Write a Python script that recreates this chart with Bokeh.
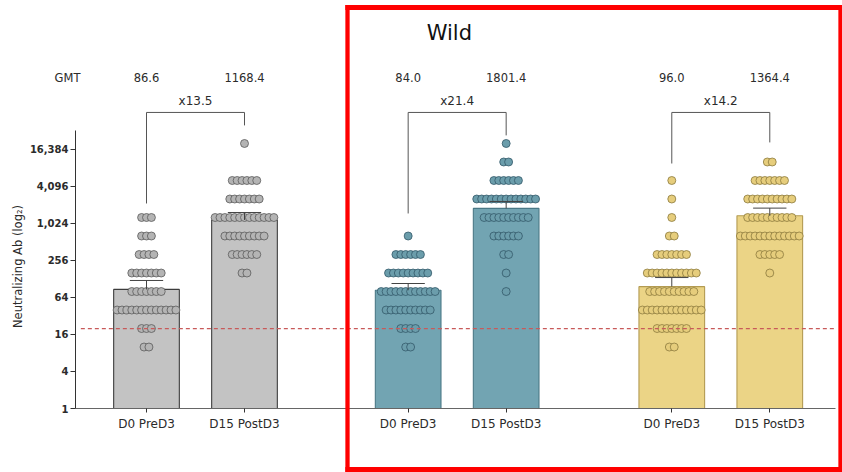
from bokeh.plotting import figure
from bokeh.models import (ColumnDataSource, FixedTicker, NumeralTickFormatter, Range1d, Label)
from bokeh.core.properties import value
from bokeh.embed import file_html
from bokeh.resources import INLINE

# ---- data -------------------------------------------------------------
# Titer levels at which individual responses were recorded
titer_levels = [10, 20, 40, 80, 160, 320, 640, 1280, 2560, 5120, 10240, 20480]

# Subjects at each titer level (aligned with titer_levels), one list per bar
counts_ref_pre = [2, 3, 13, 7, 7, 4, 3, 3, 0, 0, 0, 0]
counts_ref_post = [0, 0, 0, 0, 2, 6, 9, 13, 7, 6, 0, 1]
counts_wild_a_pre = [2, 4, 10, 12, 9, 6, 1, 0, 0, 0, 0, 0]
counts_wild_a_post = [0, 0, 0, 1, 1, 2, 6, 10, 13, 6, 2, 1]
counts_wild_b_pre = [2, 7, 13, 10, 11, 7, 2, 1, 1, 1, 0, 0]
counts_wild_b_post = [0, 0, 0, 0, 1, 5, 13, 10, 10, 7, 2, 0]

timepoints = ["D0 PreD3", "D15 PostD3", "D0 PreD3", "D15 PostD3", "D0 PreD3", "D15 PostD3"]
gmt = [86.6, 1168.4, 84.0, 1801.4, 96.0, 1364.4]
gmt_upper = [121, 1545, 108, 2335, 135, 1820]
fold_rise = ["x13.5", "x21.4", "x14.2"]
lloq = 20

# ---- layout -----------------------------------------------------------
bar_x = [1.0, 2.0, 3.67, 4.67, 6.36, 7.36]
bar_w = 0.67
dot_step = 0.05
cap_half = 0.17
bracket_top = 2 ** 16
bracket_leg_end = [2 ** 11.08, 2 ** 15.3, 2 ** 10.54, 2 ** 14.76, 2 ** 13.24, 2 ** 14.38]
gmt_row_y = 2 ** 17.9
fold_row_y = 2 ** 16.6
x_lo, x_hi = 0.2755, 8.051

bar_fill = ["#c3c3c3", "#c3c3c3", "#72a4b2", "#72a4b2", "#ebd486", "#ebd486"]
bar_edge = ["#3c3c3c", "#3c3c3c", "#4a7886", "#4a7886", "#b39b52", "#b39b52"]
dot_fill = ["#b4b4b4", "#b4b4b4", "#6b9dab", "#6b9dab", "#e6cd7c", "#e6cd7c"]
dot_edge = ["#5a5a5a", "#5a5a5a", "#33596a", "#33596a", "#8c7a3e", "#8c7a3e"]

all_counts = [counts_ref_pre, counts_ref_post, counts_wild_a_pre,
              counts_wild_a_post, counts_wild_b_pre, counts_wild_b_post]

FONT = "DejaVu Sans"
TXT = "#2b2b2b"
RED = "#ff0000"

p = figure(width=842, height=472, output_backend="svg", toolbar_location=None,
           y_axis_type="log",
           x_range=Range1d(x_lo, x_hi), y_range=Range1d(1, 2 ** 22.05),
           min_border_left=75, min_border_right=5, min_border_top=0, min_border_bottom=64)
p.outline_line_color = None
p.grid.grid_line_color = None
p.background_fill_color = "white"

# bars at the geometric mean titer
bars = ColumnDataSource(dict(x=bar_x, top=gmt, fill=bar_fill, edge=bar_edge))
p.vbar(x="x", top="top", bottom=1, width=bar_w, source=bars,
       fill_color="fill", line_color="edge", line_width=1.1)

# individual subjects, spread sideways within each titer row
dx, dy, df, de = [], [], [], []
for xc, counts, f, e in zip(bar_x, all_counts, dot_fill, dot_edge):
    for level, n in zip(titer_levels, counts):
        for i in range(n):
            dx.append(xc + (i - (n - 1) / 2) * dot_step)
            dy.append(level)
            df.append(f)
            de.append(e)
p.scatter(x=dx, y=dy, size=8, fill_color=df, line_color=de, line_width=0.8)

# upper error bars
p.segment(x0=bar_x, y0=gmt, x1=bar_x, y1=gmt_upper, line_color="#444444", line_width=1)
p.segment(x0=[x - cap_half for x in bar_x], y0=gmt_upper,
          x1=[x + cap_half for x in bar_x], y1=gmt_upper, line_color="#444444", line_width=1)

# lower limit of quantification
p.segment(x0=[0.33], y0=[lloq], x1=[8.03], y1=[lloq],
          line_color="#c85a5a", line_width=1.2, line_dash="4 3")

# fold-rise brackets
pre_x = bar_x[0::2]
post_x = bar_x[1::2]
bx0, by0, bx1, by1 = [], [], [], []
for k in range(3):
    a, b = pre_x[k], post_x[k]
    bx0 += [a, a, b]
    by0 += [bracket_leg_end[2 * k], bracket_top, bracket_leg_end[2 * k + 1]]
    bx1 += [a, b, b]
    by1 += [bracket_top, bracket_top, bracket_top]
p.segment(x0=bx0, y0=by0, x1=bx1, y1=by1, line_color="#555555", line_width=1)

p.text(x=[(a + b) / 2 for a, b in zip(pre_x, post_x)], y=[fold_row_y] * 3, text=fold_rise,
       text_align="center", text_baseline="middle", text_font=value(FONT),
       text_font_size="12px", text_color=TXT)

# GMT row
p.text(x=bar_x, y=[gmt_row_y] * 6, text=[f"{g:.1f}" for g in gmt],
       text_align="center", text_baseline="middle", text_font=value(FONT),
       text_font_size="11.5px", text_color=TXT)
p.add_layout(Label(x=67, y=77, x_units="canvas", y_units="canvas", text="GMT",
                   text_align="center", text_baseline="middle", text_font=FONT,
                   text_font_size="11.5px", text_color=TXT), "below")

# y axis title, centred on the drawn extent of the axis line
p.add_layout(Label(x=17, y=266, x_units="canvas", y_units="canvas",
                   text="Neutralizing Ab (log\u2082)", angle=90, angle_units="deg",
                   text_align="center", text_baseline="middle", text_font=FONT,
                   text_font_size="11.5px", text_color=TXT), "left")

# panel heading
p.add_layout(Label(x=4.09, y=2 ** 20.32, text="Wild", text_align="center",
                   text_baseline="middle", text_font=FONT, text_font_size="21px",
                   text_color="#111111"))


# red highlight frame around the two variant panels, built from thin filled strips
def strip(cx, cy, half_w, half_h):
    return Label(x=cx, y=cy, x_units="canvas", y_units="canvas", text=" ",
                 text_font_size="1px", text_align="center", text_baseline="middle",
                 background_fill_color=RED, background_fill_alpha=1.0,
                 padding=dict(left=half_w, right=half_w, top=half_h, bottom=half_h))


p.add_layout(strip(593, 7, 248, 2), "below")
p.add_layout(strip(593, 469, 248, 2), "below")
p.add_layout(strip(347, 238, 2, 233), "left")
p.add_layout(strip(840, 238, 2, 233), "right")

# axes
p.yaxis.ticker = FixedTicker(ticks=[1, 4, 16, 64, 256, 1024, 4096, 16384])
p.yaxis.formatter = NumeralTickFormatter(format="0,0")
p.yaxis.bounds = (1, 32768)
p.yaxis.major_label_text_font = FONT
p.yaxis.major_label_text_font_style = "bold"
p.yaxis.major_label_text_font_size = "10px"
p.yaxis.major_label_text_color = TXT
p.yaxis.major_label_standoff = 2
p.yaxis.axis_line_color = "#333333"
p.yaxis.major_tick_line_color = "#333333"
p.yaxis.major_tick_out = 5
p.yaxis.major_tick_in = 0
p.yaxis.minor_tick_line_color = None

p.xaxis.ticker = FixedTicker(ticks=bar_x)
p.xaxis.major_label_overrides = {x: t for x, t in zip(bar_x, timepoints)}
p.xaxis.bounds = (x_lo, 8.03)
p.xaxis.major_label_text_font = FONT
p.xaxis.major_label_text_font_size = "12px"
p.xaxis.major_label_text_color = TXT
p.xaxis.major_label_standoff = 4
p.xaxis.axis_line_color = "#666666"
p.xaxis.major_tick_line_color = "#333333"
p.xaxis.major_tick_out = 4
p.xaxis.major_tick_in = 0
p.xaxis.minor_tick_line_color = None

open("out.html", "w").write(file_html(p, INLINE))
